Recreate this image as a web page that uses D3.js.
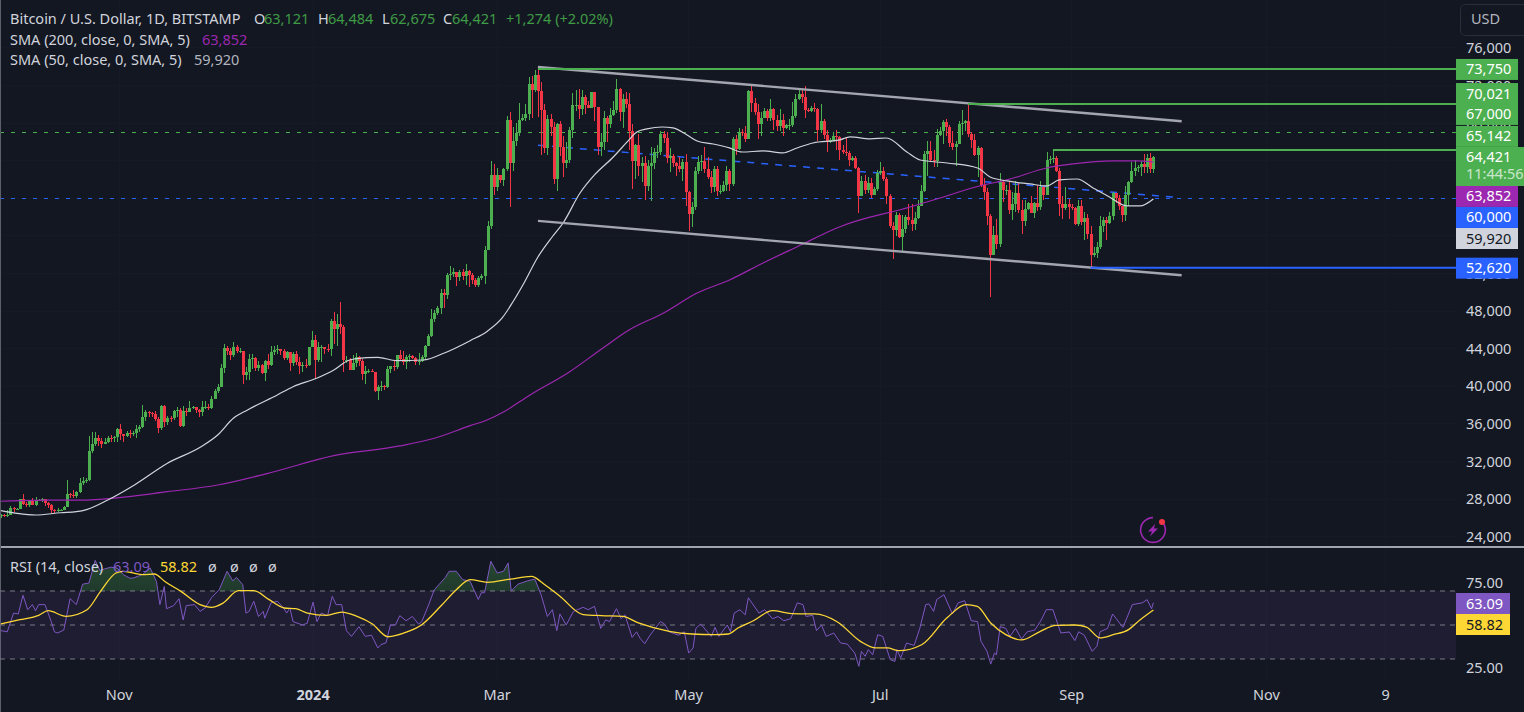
<!DOCTYPE html>
<html>
<head>
<meta charset="utf-8">
<style>
  html, body { margin: 0; padding: 0; background: #131722; overflow: hidden; }
  svg { display: block; }
  text { font-family: "Noto Sans", sans-serif; font-size: 14.5px; fill: #d1d4dc; }
  .axis path, .axis line { display: none; }
</style>
<script src="https://cdn.jsdelivr.net/npm/d3@7"></script>
</head>
<body>
<div id="chart"></div>
<script>
// daily candles, Sep 25 2023 .. Sep 26 2024
const firstOpen = 26250;
const closes = [
  26300,26210,26360,27020,26910,26970,
  27990,27500,27430,27790,27410,27930,27950,27970,27590,27390,26870,26760,26860,26860,27160,28520,28400,28330,28720,29680,29920,29990,33080,33900,34500,34150,33900,34090,34530,34490,34650,
  35430,34930,34730,35080,35050,35050,35420,35650,36700,37310,37130,37070,36490,35550,37880,36170,36600,36590,37390,37470,35810,37420,37290,37720,37790,37450,37240,37830,37850,37730,
  38700,39470,39980,41990,44080,43780,43290,44180,43720,43790,41250,41480,42880,43020,41940,42280,41370,42660,42270,43670,43860,43990,43740,43010,43600,42520,43440,42620,42140,42280,42270,
  44170,44950,42840,44150,44160,43970,43950,46950,46120,46650,46350,42850,42850,41730,42510,43140,42740,41290,41620,41660,41550,39510,39880,40080,39930,41810,42120,42030,43300,42940,42580,
  43080,43190,42990,42580,42650,43080,44340,45300,47140,47770,48290,49960,49720,51830,51900,52150,51660,52120,51780,52270,51860,51320,50740,51570,51730,54480,57080,62500,61170,
  62430,61990,63130,68300,63780,66100,66930,68300,68500,69000,72100,71470,73100,71400,69400,65300,68400,67600,62000,67850,65500,63800,64100,67250,69950,69950,69450,70800,69900,69650,71300,
  69700,65450,65950,68500,67850,68900,69350,71600,69150,70600,70050,67150,63950,65700,63400,63800,61300,63450,63800,64950,64950,66800,66400,64300,64500,63750,63400,63100,63850,60650,
  58300,59100,62900,63900,64000,63150,62300,61200,63100,60800,60800,61450,62900,61550,66250,65250,67050,66950,66250,71450,70150,69150,67950,68550,69300,68500,69450,68350,67650,68350,67500,
  67750,67750,68800,70550,71100,70800,69350,69300,69650,69500,67300,68250,66750,66000,66200,66650,66500,65150,64950,64850,64100,64250,63200,60250,61800,60850,61650,60300,60950,62700,
  62850,62050,60200,57050,56650,58250,55850,56700,58000,57700,57300,57900,59200,60800,64750,65050,64100,63950,66700,67150,68150,67550,65900,65400,65800,67900,68000,68250,66800,66200,64650,
  65350,61450,60700,58100,53950,56050,55100,61700,60850,60900,58700,59350,60600,58700,57550,58900,59500,58450,59500,59050,61150,60400,64050,64150,64250,62850,59400,59000,59350,59100,58950,
  57300,59150,57450,57950,56150,53950,54150,54850,57050,57650,57350,58100,60550,60000,59200,58200,60300,61750,62950,63200,63350,63600,63350,64250,63121,64421
];
const highs = [
  26430,26390,26810,27290,27220,27090,
  28050,28580,27670,27830,28120,28270,28030,28100,27990,27730,27480,26950,27100,26970,27290,30000,28620,28990,28920,30220,30350,30210,34740,35150,35130,34830,34480,34480,34750,34870,34730,
  35570,35980,34950,35250,35380,35280,35900,35890,37970,37530,37400,37230,37410,36760,37980,37990,36850,36850,37500,37750,37660,37860,37660,38430,37890,37830,37590,38400,38390,38170,
  38990,39700,40220,42420,44490,44300,44050,44700,44370,44040,43800,42100,43430,43420,43090,42740,42400,42760,43480,44290,44240,44390,43950,43950,43790,43610,43680,43800,43130,42620,42860,
  44190,45900,45500,44730,44350,44230,44480,47210,47890,47700,49020,46500,43250,43040,43380,43570,43190,42900,42190,41860,41880,41570,40130,40520,40130,42200,42190,42810,43310,43850,43740,
  43280,43420,43380,43120,43500,43370,44380,45580,48200,48160,48590,50350,50370,52010,52820,52570,52200,52380,52480,52980,52380,52050,51550,51700,51950,54910,57560,64000,63680,
  63170,62420,63220,68760,69200,67600,67990,70100,68950,70000,72880,72950,73650,73750,72400,70050,68900,68950,68100,68000,68200,66650,65950,67600,71150,71550,71650,71550,71000,70300,71350,
  71300,69700,66900,69300,68700,69600,70300,72700,71750,71100,71250,71200,67900,65800,66850,64350,64450,64100,65500,65350,65650,67200,67150,67050,65300,64750,63900,64350,64200,64700,
  60800,59600,63300,64500,64600,65500,64400,62900,63450,63450,61450,61800,63400,63100,66500,66700,67450,67400,67650,71500,71950,70650,70050,69200,69550,69500,70600,69550,68900,69500,69000,
  67850,68450,70250,71050,71750,71650,71950,69550,69850,70150,69550,70000,68450,67300,66450,67000,67250,66600,65700,66450,65050,64500,64500,63350,62350,62450,62300,62200,61200,63050,
  63850,63300,62300,60500,57500,58500,58450,58200,58250,59400,59400,58500,59800,61400,65000,66100,66100,65100,67400,67550,68350,68450,67750,67100,66100,68200,69400,68300,70021,67000,66800,
  65600,65500,62200,61100,58300,57000,57750,62700,61800,61450,61800,60700,61800,61600,59850,59850,59650,60250,59600,61400,61800,61350,64950,64500,65000,64500,63200,60200,61200,59900,59400,
  59050,59800,59800,58500,58300,57000,54800,55300,58100,58000,58000,58550,60650,60600,60400,59200,61300,61800,63850,64100,63550,64000,64750,64700,64800,64484
];
const lows = [
  25990,26110,26120,26330,26670,26890,
  26950,27330,27160,27210,27360,27280,27850,27700,27280,27110,26550,26560,26690,26810,26810,27120,28100,28130,28170,28610,29480,29670,29900,32880,33700,33700,33400,33880,33950,34070,34070,
  34100,34340,34100,34590,34550,34740,34530,35100,35540,36340,36760,36750,36350,35080,35360,35720,35880,36190,36380,36700,35650,35670,36880,37250,37600,37160,36720,36890,37600,37500,
  37630,38650,39280,39970,41420,43350,42830,43080,43590,43590,40220,40680,40650,41820,41650,41680,41260,40530,41830,42210,43330,43430,43320,42800,42760,41650,42110,42310,41300,41520,41960,
  42200,44150,40750,42630,42630,43400,43640,43200,44500,44300,45600,41500,42450,41720,41730,42050,42200,40630,40300,41430,41480,39430,38500,39500,39560,39820,41400,41630,41820,42700,42300,
  41880,42580,42880,42250,42260,42570,42760,44330,45240,46800,47560,47700,48300,49250,51310,51610,50630,51190,51360,50780,50520,50920,50520,50600,51300,50920,54450,56700,60400,
  60790,61650,61330,62880,59050,62850,65560,66600,68200,68200,68300,68500,71350,68600,64550,64800,64550,66600,61560,60800,64500,62300,63250,63800,66400,69300,68400,68900,69000,69550,69600,
  68200,64550,64500,65100,66000,67450,68800,69050,68200,67500,69550,65100,61000,62100,62350,61700,59800,60800,59700,63150,64250,64550,65850,63800,62800,63300,62400,62800,61800,59150,
  56550,56950,58800,62600,62900,62700,62050,60600,60650,60200,60500,60650,60800,60800,61350,64600,65100,66650,65950,66650,69150,68850,66300,66600,68550,68250,68250,67250,67150,67100,66650,
  67400,67300,67600,68550,70400,70150,68500,69200,69150,69200,66100,66900,66300,64950,65900,66050,65100,64100,64700,64500,63400,63950,63150,58450,60300,60500,60600,60000,60400,60800,
  62500,61800,59400,56800,53500,56000,55750,54300,56300,57200,56550,56650,57750,59300,60650,62400,63900,63300,63350,66650,65800,66600,65500,65100,63450,65750,66700,67100,66500,65300,64500,
  62300,61200,59850,57200,49500,53950,54600,54800,59600,60300,58300,57650,58500,58400,56150,57100,58800,58400,57850,58600,58800,59800,60350,63600,63800,62800,58100,57800,58700,57750,58700,
  57200,57100,57200,55600,55650,52620,53750,53650,54600,56400,55550,57300,57650,59450,58700,57500,57600,59200,61600,62350,62800,62400,62700,62700,62700,62675
];

// moving averages, read point by point (candle index, value)
const sma50Idx = [0,5,11,19,24,27.5,34,42.5,53,63.7,69,74,78.5,88,93,100.5,106,111,116.5,120,126,134.5,141,149.4,155,159.6,163,166.2,171,175.5,179,184.4,189,195,199.4,202.5,205.7,210.5,214,218.5,221.7,226.8,232,236,242.7,249,253.5,258.6,267,270.4,276.8,282,288.5,292.7,301.3,311,315,320.4,327.7,333,337,342.7,347.8,353,358.6,362.7,367];
const sma50Val = [26780,26500,26320,26560,26670,26920,27910,29510,31820,33580,34830,36600,37490,39080,39960,40860,41740,42800,43050,43090,42730,42800,43520,44855,45890,47270,48970,50780,53760,55880,57370,60560,62480,64390,65990,67050,67370,67580,67480,66730,66090,65770,65350,64920,65030,64820,65350,65880,66200,66520,66310,66410,64920,64070,63750,63220,62260,61840,61520,61310,61950,62050,61100,60140,59180,59180,59920];
const sma200Idx = [0,10.6,27.6,35,53,69,85,106,127,138,149.4,154.8,160,168.5,181,191.7,200,211,221.7,232,242.7,255.4,264,267,289.5,299,312.7,320.4,333,341.4,354,361.8,367];
const sma200Val = [27780,27880,27910,28090,28800,29510,30750,32630,33660,34480,35820,36420,37270,39080,41530,44080,45990,47800,49930,51310,53120,55140,56520,56950,59070,60030,61410,61950,63220,63650,63970,63970,63852];

const rsiIdx = [0,2,4,5.5,7,8.5,10,11,12,14,16,17,18,20,22,24,26,28,30,31.5,33,35,37,39,41,42,45,47.5,49.5,50.6,52,52.7,55,56.7,58,59,61.6,63.4,65,67,69.5,72,73.8,75,77,78,79,80.5,82,83.5,84,86,88,90,91,92,93,96,97.5,99.4,100.6,102,104,105.5,106.7,108.5,110,111.6,114,116,118,120,121,122.6,124,125.6,127,129,131,133,134,136,138,139.6,141.5,142.7,145,147,149.4,152,153,154,156,158,160,161.5,162.5,164.6,167.7,170,172,174,175.6,177,178,180,182.3,185.4,187,189,191,192.6,193.8,196,197.5,198.7,201,202.4,203.6,205,206.7,210,211.3,212.8,215.8,217.6,219,220.4,221.3,222.8,226.2,227.4,228.6,231.3,232.3,233.5,235.3,237,238,241.4,243.2,245.7,247.5,249.3,251.5,253.6,255.4,256.4,258.5,259.7,261.3,262.8,265.2,267.4,269.5,271.9,273.2,274,275.2,276.2,277.6,279.2,280.8,283.2,284.7,285.3,286.5,288.4,290.8,292.6,294.5,295.5,297,298,300.3,303,304.8,306.9,309,311,312.1,314,315.2,316.4,317,318.2,320,321.3,323.1,325,326.8,329.2,331,332.9,335,337.5,340.2,342,343.2,345,347.5,349,350,352.4,354,357.3,360.3,363.4,365,366.4,367];
const rsiVal = [46.7,46,57,56.5,67.5,59,62,58.4,62,62,52,46,45.3,47,65.5,62,74,74.7,88,82,83,84,83.5,79.6,77.6,77.6,79.6,83.5,75.7,62,72.7,59.6,61.4,65.5,53,61.4,62,58,60,66,70.8,81.6,76,78,73.7,57,58,64,55,58,54,63,64,60,57,60,52,50,51,63.5,52,57,55.5,66.9,62,62,46.7,43.3,49,43.3,44,36.5,38.5,39.5,50,50,55.5,52.5,55,50.5,52,61,70.8,74,78,81.6,81.6,76.7,75.7,65,69,69,87.5,80.6,81.6,86.5,70,74,76,77,67.8,55,59,46.7,56.5,50,58,60.4,59,61,48,53,52,59.6,53.7,56,42.7,46,42,39,44,52,50.6,46,44,46,33.5,36.5,48,50.6,43.3,48.6,43.3,50,46,57,59,56,66,57,59,53.7,55,52.5,53.7,63,62,55,55.7,46.7,50,43.3,45.3,39.4,38.8,33.5,25.7,34.5,31.6,35.5,32.5,44.3,43.3,29.6,28.6,35.5,30.6,39.4,38,48,62,62.4,58,65,67.8,56.5,63,64.3,52.5,52,40.4,34.5,27,33.5,32.5,49,48,43.3,48,41.8,46,47,52,59,59,45.3,45.9,40.8,46,44,34.5,37.5,46,48,56.5,48.6,62,63,64.9,59.6,63.09];
const rsiMaIdx = [0,6,12,15,20.7,27.4,31.7,36.6,39,45,48.8,52.4,57.3,63.4,67,70.7,75.6,80.5,85.4,90.2,93.9,97.6,103.7,108.5,113.4,118.3,123.2,129.3,134,140,145,149.4,154.9,162.2,168.9,173.2,178,185.4,191.2,198,203,212.8,220,227.4,231.7,234.7,239.6,245.7,251.8,259.1,266.4,273.7,278.6,282.3,285.9,293.2,301.2,307.3,310.9,315.2,320,325,331,335.9,342,345.7,350,354.2,359.1,362.8,367];
const rsiMaVal = [50.6,53.1,55.7,58.4,55.1,59,69.8,80.6,81.6,79.6,80,75.3,69.8,62,60.4,62.9,70.2,70.2,64.9,60,59.6,57,55.7,57.6,55.1,50.6,43.1,45.9,50.2,61,70.8,76.7,75.1,77,78.6,73.7,66.9,56.1,55.5,55.1,51.2,46.3,44.7,44.3,44.7,48.2,52.5,58.4,56.7,56.5,51.8,40.4,36.5,36.5,34.9,38.4,54.1,62,61,51.2,44.3,41.2,46.3,49.8,50,48.8,42.4,44.3,47.3,53.1,58.82];

// axes
const priceTicks = d3.range(24000, 76001, 4000);
const rsiTicks = [25, 75];
const rsiLevels = [30, 50, 70];
const timeLabels = ['Nov', '2024', 'Mar', 'May', 'Jul', 'Sep', 'Nov', '9'];
const timeIdx = [37.6, 99.4, 158, 219, 280, 341, 403, 441];

// drawn channel and levels
const channelTop = [[171, 73960], [376, 68190]];
const channelBottom = [[171, 57590], [376, 51810]];
const channelMid = [[171, 65640], [374, 60110]];
const solidLevels = [[171, 73750, '#4caf50'], [308, 70021, '#4caf50'], [335, 65142, '#4caf50'], [347, 52620, '#2962ff']];
const dashedLevels = [[67000, '#4caf50'], [60000, '#2962ff']];

// price scale badges
const badgeLabels = ['73,750', '70,021', '67,000', '65,142', '63,852', '60,000', '59,920', '52,620'];
const badgeValues = [73750, 70021, 67000, 65142, 63852, 60000, 59920, 52620];
const badgeFills = ['#4caf50', '#4caf50', '#4caf50', '#4caf50', '#9c27b0', '#2962ff', '#d1d4dc', '#2962ff'];
const badgeShift = [0.5, -10.5, -18, -13.5, 34.4, 19.2, 39.5, 0.5];

const width = 1524, height = 712;
const paneRight = 1456;
const bg = '#131722', green = '#4caf50', red = '#f23645';

const x = d3.scaleLinear().domain([0, 367]).range([1, 1153.4]);
const y = d3.scaleLinear().domain([24000, 76000]).range([536.8, 47.8]);
const yRsi = d3.scaleLinear().domain([30, 70]).range([659, 591]);

const svg = d3.select('#chart').append('svg')
  .attr('width', width)
  .attr('height', height);

svg.append('rect').attr('width', width).attr('height', height).attr('fill', bg);

const defs = svg.append('defs');
defs.append('clipPath').attr('id', 'clip-over')
  .append('rect').attr('x', 0).attr('y', 548).attr('width', paneRight).attr('height', yRsi(70) - 548);
const grad = defs.append('linearGradient').attr('id', 'rsi-over').attr('x1', 0).attr('x2', 0).attr('y1', 0).attr('y2', 1);
grad.append('stop').attr('offset', '0%').attr('stop-color', green).attr('stop-opacity', 0.32);
grad.append('stop').attr('offset', '100%').attr('stop-color', green).attr('stop-opacity', 0);

// faint grid
const grid = svg.append('g').attr('stroke', '#161a26').attr('shape-rendering', 'crispEdges');
priceTicks.forEach(function(t) {
  grid.append('line').attr('x1', 0).attr('x2', paneRight).attr('y1', y(t)).attr('y2', y(t));
});
timeIdx.forEach(function(t) {
  grid.append('line').attr('x1', x(t)).attr('x2', x(t)).attr('y1', 0).attr('y2', 680);
});

// horizontal levels under the candles
dashedLevels.forEach(function(d) {
  const ly = Math.round(y(d[0])) + 0.5;
  svg.append('line').attr('x1', 0).attr('x2', paneRight)
    .attr('y1', ly).attr('y2', ly)
    .attr('stroke', d[1]).attr('stroke-width', 1).attr('stroke-dasharray', '4,7');
});

const linePath = d3.line().x(d => x(d[0])).y(d => y(d[1]));
const smoothPath = d3.line().curve(d3.curveMonotoneX).x(d => x(d[0])).y(d => y(d[1]));

svg.append('path').datum(channelMid).attr('d', linePath)
  .attr('fill', 'none').attr('stroke', '#2962ff').attr('stroke-width', 1.5).attr('stroke-dasharray', '7,7');

// candles
const opens = closes.map((c, i) => i === 0 ? firstOpen : closes[i - 1]);
const candles = svg.append('g').selectAll('g').data(closes).enter().append('g')
  .attr('shape-rendering', 'crispEdges')
  .attr('fill', (c, i) => c >= opens[i] ? green : red);

candles.append('rect')
  .attr('x', (c, i) => Math.round(x(i)))
  .attr('width', 1)
  .attr('y', (c, i) => y(highs[i]))
  .attr('height', (c, i) => Math.max(1, y(lows[i]) - y(highs[i])));

candles.append('rect')
  .attr('x', (c, i) => Math.round(x(i)) - 1)
  .attr('width', 3)
  .attr('y', (c, i) => y(Math.max(c, opens[i])))
  .attr('height', (c, i) => Math.max(1, Math.abs(y(c) - y(opens[i]))));

// moving averages
svg.append('path').datum(d3.zip(sma200Idx, sma200Val)).attr('d', smoothPath)
  .attr('fill', 'none').attr('stroke', '#9c27b0').attr('stroke-width', 1.2);
svg.append('path').datum(d3.zip(sma50Idx, sma50Val)).attr('d', smoothPath)
  .attr('fill', 'none').attr('stroke', '#d1d4dc').attr('stroke-width', 1.2);

// channel + solid levels on top
[channelTop, channelBottom].forEach(function(c) {
  svg.append('path').datum(c).attr('d', linePath)
    .attr('fill', 'none').attr('stroke', '#a3a6af').attr('stroke-width', 2.4);
});
solidLevels.forEach(function(d) {
  svg.append('line').attr('x1', x(d[0])).attr('x2', paneRight)
    .attr('y1', y(d[1])).attr('y2', y(d[1]))
    .attr('stroke', d[2]).attr('stroke-width', 2);
});

// price axis
const priceAxis = svg.append('g').attr('class', 'axis')
  .attr('transform', 'translate(1466,0)')
  .call(d3.axisRight(y).tickValues(priceTicks).tickSize(0).tickPadding(0).tickFormat(d3.format(',')));
priceAxis.attr('font-family', null).attr('font-size', null);

// badges
function badge(label, cy, fill, textFill, w) {
  svg.append('rect').attr('x', paneRight).attr('y', cy - 10.5).attr('width', w || 62).attr('height', 21).attr('fill', fill);
  svg.append('text').attr('x', 1466).attr('y', cy + 5).style('fill', textFill || '#fff').text(label);
}
badgeLabels.forEach(function(l, i) {
  badge(l, y(badgeValues[i]) + badgeShift[i], badgeFills[i], badgeFills[i] === '#d1d4dc' ? '#131722' : '#fff');
});
// live price with countdown
svg.append('rect').attr('x', paneRight).attr('y', 147).attr('width', 68).attr('height', 39).attr('fill', green);
svg.append('text').attr('x', 1466).attr('y', 162).style('fill', '#fff').text('64,421');
svg.append('text').attr('x', 1466).attr('y', 179).style('fill', '#fff').style('opacity', 0.7).text('11:44:56');

// USD button
svg.append('rect').attr('x', 1460.5).attr('y', 4.5).attr('width', 80).attr('height', 31).attr('rx', 5)
  .attr('fill', 'none').attr('stroke', '#2a2e39');
svg.append('text').attr('x', 1471).attr('y', 24).style('fill', '#b2b5be').text('USD');

// legend
function legend(parts, py) {
  parts.forEach(function(p) {
    svg.append('text').attr('x', p[0]).attr('y', py).style('fill', p[2]).text(p[1]);
  });
}
const up = '#3f9b45';
legend([[10, 'Bitcoin / U.S. Dollar, 1D, BITSTAMP', '#d1d4dc'],
  [254, 'O', '#d1d4dc'], [264, '63,121', up], [318, 'H', '#d1d4dc'], [328, '64,484', up],
  [382, 'L', '#d1d4dc'], [390, '62,675', up], [443, 'C', '#d1d4dc'], [452, '64,421', up], [506, '+1,274 (+2.02%)', up]], 24);
legend([[10, 'SMA (200, close, 0, SMA, 5)', '#d1d4dc'], [202, '63,852', '#9c27b0']], 45);
legend([[10, 'SMA (50, close, 0, SMA, 5)', '#d1d4dc'], [194, '59,920', '#b2b5be']], 65);

// icon
const icon = svg.append('g').attr('transform', 'translate(1153,530)');
icon.append('path')
  .attr('d', d3.arc().innerRadius(11.6).outerRadius(13.2).startAngle(0.7).endAngle(Math.PI * 2)())
  .attr('fill', '#9c27b0');
icon.append('path').attr('d', 'M2,-6 L-5,1.5 L-1,1.5 L-3,6.5 L5,-1.5 L1,-1.5 Z').attr('fill', '#9c27b0');
icon.append('circle').attr('cx', 9).attr('cy', -8).attr('r', 3).attr('fill', '#f23645');

// separator + left edge
svg.append('line').attr('x1', 0).attr('x2', width).attr('y1', 547).attr('y2', 547)
  .attr('stroke', '#d1d4dc').attr('stroke-width', 1.5);
svg.append('line').attr('x1', 0.5).attr('x2', 0.5).attr('y1', 0).attr('y2', height)
  .attr('stroke', '#5d606b');

// RSI pane
svg.append('rect').attr('x', 0).attr('width', paneRight)
  .attr('y', yRsi(70)).attr('height', yRsi(30) - yRsi(70))
  .attr('fill', '#7e57c2').attr('fill-opacity', 0.1);
rsiLevels.forEach(function(l) {
  svg.append('line').attr('x1', 0).attr('x2', paneRight)
    .attr('y1', yRsi(l)).attr('y2', yRsi(l))
    .attr('stroke', '#787b86').attr('stroke-dasharray', '5,5');
});
const rsiData = d3.zip(rsiIdx, rsiVal);
svg.append('path').datum(rsiData)
  .attr('d', d3.area().x(d => x(d[0])).y0(yRsi(70)).y1(d => yRsi(d[1])))
  .attr('clip-path', 'url(#clip-over)')
  .attr('fill', 'url(#rsi-over)');
svg.append('path').datum(rsiData)
  .attr('d', d3.line().x(d => x(d[0])).y(d => yRsi(d[1])))
  .attr('fill', 'none').attr('stroke', '#7e57c2').attr('stroke-width', 1);
svg.append('path').datum(d3.zip(rsiMaIdx, rsiMaVal))
  .attr('d', d3.line().curve(d3.curveMonotoneX).x(d => x(d[0])).y(d => yRsi(d[1])))
  .attr('fill', 'none').attr('stroke', '#fdd835').attr('stroke-width', 1.3);

svg.append('g').attr('class', 'axis')
  .attr('transform', 'translate(1466,0)')
  .call(d3.axisRight(yRsi).tickValues(rsiTicks).tickSize(0).tickPadding(0).tickFormat(d3.format('.2f')))
  .attr('font-family', null).attr('font-size', null);

legend([[10, 'RSI (14, close)', '#d1d4dc'], [113, '63.09', '#7e57c2'], [160, '58.82', '#fdd835'],
  [208, 'ø', '#d1d4dc'], [230, 'ø', '#d1d4dc'], [249, 'ø', '#d1d4dc'], [268, 'ø', '#d1d4dc']], 572);

function rsiBadge(label, cy, fill, textFill) {
  svg.append('rect').attr('x', paneRight).attr('y', cy - 10.5).attr('width', 54).attr('height', 21).attr('fill', fill);
  svg.append('text').attr('x', 1466).attr('y', cy + 5).style('fill', textFill).text(label);
}
rsiBadge('63.09', 603.5, '#7e57c2', '#fff');
rsiBadge('58.82', 624.5, '#fdd835', '#131722');

// time axis labels
timeLabels.forEach(function(t, i) {
  svg.append('text').attr('x', x(timeIdx[i])).attr('y', 700)
    .attr('text-anchor', 'middle')
    .style('font-weight', t === '2024' ? 700 : 400)
    .text(t);
});
</script>
</body>
</html>
